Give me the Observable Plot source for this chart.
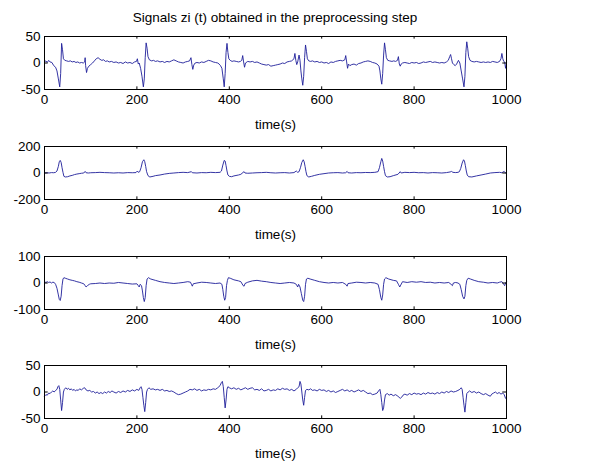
<!DOCTYPE html>
<html><head>
<meta charset="utf-8">
<script src="https://cdn.jsdelivr.net/npm/d3@7"></script>
<script src="https://cdn.jsdelivr.net/npm/@observablehq/plot@0.6"></script>
<style>
body{margin:0;background:#fff;}
#wrap{position:relative;width:591px;height:463px;overflow:hidden;font-family:"Liberation Sans",Arial,sans-serif;}
#title{position:absolute;left:44px;width:462px;top:10px;text-align:center;font-size:13.5px;line-height:15px;color:#000;}
.panel{position:absolute;left:0;}
</style></head><body>
<div id="wrap"><div id="title">Signals zi (t) obtained in the preprocessing step</div></div>
<script>
const titleText = "Signals zi (t) obtained in the preprocessing step";
const xLabel = "time(s)";
const xTicks = [0, 200, 400, 600, 800, 1000];
const yTicks1 = [-50, 0, 50];
const yTicks2 = [-200, 0, 200];
const yTicks3 = [-100, 0, 100];
const yTicks4 = [-50, 0, 50];

const signal1 = [[0,2],[3,4],[6,1],[9,5],[12,2],[16,1],[20,-5],[24,-8],[27,-15],[30,-30],[33,-45],[35,-20],[37,37],[39,25],[41,8],[44,5],[48,4],[52,3],[56,4],[60,2],[64,3],[68,1],[72,2],[76,0],[80,1],[84,0],[87,2],[88,10],[89,-5],[91,-18],[93,-10],[96,-6],[100,-3],[104,0],[108,4],[112,8],[116,10],[120,7],[124,5],[128,6],[132,3],[136,4],[140,2],[145,3],[150,1],[155,2],[160,0],[165,1],[170,-1],[175,2],[180,0],[185,1],[190,-1],[195,2],[199,3],[201,8],[203,-2],[205,0],[208,-10],[211,-25],[214,-45],[216,-30],[218,10],[220,38],[222,28],[224,12],[227,6],[232,4],[236,5],[240,3],[245,4],[250,2],[255,3],[260,1],[265,3],[270,2],[275,4],[280,6],[285,4],[290,2],[295,1],[300,0],[305,2],[310,3],[314,4],[317,10],[319,-3],[321,-12],[323,-4],[326,0],[330,1],[335,0],[340,2],[345,1],[350,3],[355,5],[360,4],[365,2],[370,1],[375,0],[378,-2],[381,-5],[384,-10],[387,-30],[389,-45],[391,-20],[393,20],[395,37],[397,20],[399,8],[402,5],[406,3],[410,4],[415,3],[420,2],[424,3],[427,5],[429,14],[431,2],[433,-8],[435,0],[440,3],[445,2],[450,3],[455,1],[460,2],[465,0],[470,-2],[475,-3],[480,-4],[485,-3],[490,-6],[495,-5],[500,-4],[505,-3],[510,-2],[515,0],[520,-1],[525,2],[530,3],[535,4],[540,8],[542,18],[544,5],[546,-3],[548,2],[551,15],[553,5],[555,-15],[557,-30],[559,-42],[561,-25],[563,10],[565,34],[567,22],[569,8],[572,4],[576,3],[580,4],[585,2],[590,3],[595,1],[600,2],[605,0],[610,1],[615,-1],[620,2],[625,1],[630,3],[635,4],[640,5],[645,4],[650,6],[652,14],[654,2],[656,-10],[658,-2],[661,-5],[665,-3],[670,-2],[675,-4],[680,-1],[685,0],[690,2],[695,3],[700,4],[705,3],[710,1],[715,0],[720,-2],[724,-6],[726,-15],[728,-30],[730,-40],[732,-20],[734,15],[736,38],[738,25],[740,10],[743,5],[747,4],[752,3],[756,4],[760,3],[764,5],[766,12],[768,-2],[770,-6],[772,-2],[775,0],[780,1],[785,0],[790,-1],[795,1],[800,0],[805,1],[810,-1],[815,0],[820,2],[825,1],[830,2],[835,3],[840,1],[845,2],[850,1],[855,0],[860,1],[865,0],[870,2],[874,5],[877,12],[879,16],[881,8],[883,0],[886,-3],[889,-5],[892,-2],[896,5],[899,0],[902,-15],[905,-30],[908,-45],[910,-25],[912,20],[914,40],[916,28],[918,12],[921,5],[925,3],[930,2],[935,3],[940,2],[945,1],[950,2],[955,1],[960,2],[965,1],[970,3],[975,2],[980,1],[985,3],[988,8],[990,18],[992,8],[994,3],[996,2],[998,-10],[1000,0]];

const signal2 = [[0,0],[5,2],[10,0],[15,3],[20,2],[24,5],[27,15],[30,50],[32,85],[34,95],[36,80],[38,40],[40,5],[42,-25],[45,-30],[50,-28],[55,-22],[60,-18],[65,-12],[70,-8],[75,-5],[80,-2],[85,0],[88,12],[90,2],[95,0],[100,2],[110,3],[120,5],[130,3],[140,2],[150,0],[160,2],[170,0],[180,3],[190,2],[198,3],[201,15],[203,5],[206,10],[209,40],[212,85],[215,100],[217,85],[219,50],[221,10],[224,-20],[228,-30],[235,-25],[240,-20],[250,-15],[260,-8],[270,-3],[280,0],[290,3],[300,5],[310,3],[318,10],[320,2],[330,0],[340,3],[350,2],[360,5],[370,3],[380,5],[383,15],[386,60],[389,95],[391,90],[393,55],[395,15],[397,-15],[400,-25],[405,-28],[410,-22],[420,-15],[425,-10],[430,5],[432,10],[434,0],[440,-2],[450,0],[460,2],[470,3],[480,5],[490,2],[500,0],[510,2],[520,3],[530,0],[540,3],[545,15],[548,5],[551,10],[554,40],[557,80],[560,100],[562,85],[564,50],[566,10],[568,-20],[572,-30],[578,-25],[585,-18],[595,-10],[605,-5],[615,0],[625,2],[635,3],[645,0],[652,2],[655,12],[657,2],[665,0],[675,3],[685,2],[695,4],[705,3],[715,5],[722,10],[725,40],[728,85],[730,110],[732,90],[734,50],[736,10],[738,-20],[742,-30],[748,-28],[755,-20],[765,-10],[770,10],[772,0],[780,5],[790,3],[800,5],[810,2],[820,3],[830,0],[840,3],[850,2],[860,0],[870,3],[878,8],[881,12],[884,5],[890,3],[895,5],[898,10],[901,35],[904,75],[907,100],[909,90],[911,55],[913,15],[915,-15],[918,-28],[925,-30],[935,-22],[945,-15],[955,-8],[965,0],[975,3],[985,5],[990,2],[995,12],[998,0],[1000,5]];

const signal3 = [[0,5],[3,2],[6,5],[9,2],[12,4],[15,0],[18,3],[21,2],[24,-5],[27,-20],[30,-45],[32,-62],[34,-66],[36,-50],[38,-10],[40,15],[42,20],[45,18],[50,15],[55,12],[60,10],[65,8],[70,5],[75,3],[80,0],[85,-3],[88,-10],[90,-15],[93,-10],[97,-5],[100,-3],[110,-2],[120,0],[130,-2],[140,0],[150,-1],[160,2],[170,0],[180,-2],[190,-4],[200,-3],[203,-10],[205,-15],[207,-5],[210,-10],[212,-30],[214,-55],[216,-70],[218,-55],[220,-10],[222,15],[225,20],[230,15],[240,10],[250,5],[260,2],[270,0],[280,-2],[290,0],[300,2],[310,5],[316,3],[318,-5],[320,-12],[322,-3],[330,0],[340,3],[350,2],[360,0],[370,-2],[380,0],[384,-5],[386,-25],[388,-50],[390,-65],[392,-55],[394,-10],[396,10],[398,20],[402,18],[410,12],[420,8],[425,5],[430,-10],[432,-12],[434,-2],[440,3],[450,8],[460,10],[470,7],[480,5],[490,2],[500,0],[510,-2],[520,0],[530,2],[540,0],[545,-5],[548,-15],[550,-5],[553,-15],[556,-40],[559,-65],[561,-70],[563,-50],[565,-5],[567,15],[570,18],[575,15],[585,10],[595,5],[605,2],[615,0],[625,2],[635,0],[645,2],[652,-5],[655,-12],[657,-2],[665,0],[675,3],[685,2],[695,0],[705,2],[715,0],[722,-5],[725,-25],[728,-55],[730,-65],[732,-45],[734,-5],[736,15],[739,20],[745,15],[755,10],[762,8],[766,-5],[769,-15],[771,-8],[775,5],[785,2],[795,5],[805,3],[815,5],[825,2],[835,3],[845,0],[855,2],[865,0],[875,2],[880,-5],[883,-10],[885,0],[890,2],[895,0],[899,-5],[902,-25],[905,-50],[908,-60],[910,-50],[912,-10],[914,10],[917,18],[922,15],[930,10],[940,5],[950,3],[960,0],[970,2],[980,0],[985,3],[990,5],[994,-5],[996,-10],[998,0],[1000,5]];

const signal4 = [[0,-8],[3,-5],[6,-6],[9,-2],[12,-3],[15,0],[18,2],[21,0],[24,3],[27,5],[29,10],[31,12],[33,5],[35,-15],[37,-35],[39,-20],[41,0],[43,5],[46,8],[49,5],[52,7],[55,4],[58,6],[61,3],[64,5],[67,2],[70,4],[73,3],[76,6],[80,4],[84,7],[87,8],[90,4],[94,2],[98,3],[102,0],[106,1],[110,-2],[114,0],[118,-3],[122,-1],[126,-3],[130,0],[134,-2],[138,1],[142,-1],[146,2],[150,0],[155,-2],[160,1],[165,-1],[170,2],[175,0],[180,3],[185,1],[190,4],[195,2],[200,5],[204,3],[207,8],[209,10],[211,5],[213,-10],[215,-25],[217,-37],[219,-20],[221,0],[223,5],[226,8],[230,5],[235,6],[240,4],[245,5],[250,3],[255,5],[260,2],[265,3],[270,1],[275,2],[280,0],[285,-3],[290,-5],[295,-4],[300,-2],[305,0],[310,2],[315,5],[320,4],[325,6],[330,3],[335,5],[340,2],[345,4],[350,3],[355,5],[360,4],[365,6],[370,5],[375,8],[380,12],[383,18],[385,20],[387,10],[389,-10],[391,-30],[393,-15],[395,5],[397,10],[400,8],[405,6],[410,8],[415,5],[420,7],[425,4],[430,6],[435,8],[440,5],[445,7],[450,8],[455,4],[460,5],[465,3],[470,6],[475,2],[480,3],[485,5],[490,2],[495,4],[500,3],[505,6],[510,4],[515,7],[520,5],[525,6],[530,3],[535,5],[540,2],[545,5],[548,8],[551,10],[553,20],[555,15],[557,0],[559,-15],[561,-25],[563,-10],[565,3],[568,5],[572,4],[576,6],[580,3],[585,4],[590,2],[595,5],[600,3],[605,4],[610,1],[615,3],[620,0],[625,2],[630,-1],[635,1],[640,3],[645,5],[650,2],[655,4],[660,1],[665,3],[670,0],[675,2],[680,4],[685,1],[690,3],[695,0],[700,-3],[705,-2],[710,-5],[715,-4],[720,-2],[723,2],[726,5],[728,-5],[730,-20],[732,-35],[734,-30],[736,-15],[738,-5],[742,-3],[746,-6],[750,-4],[755,-7],[760,-5],[765,-8],[770,-12],[773,-10],[776,-6],[780,-4],[785,-6],[790,-3],[795,-5],[800,-2],[805,-4],[810,-3],[815,-5],[820,-2],[825,-4],[830,-1],[835,-3],[840,-2],[845,-4],[850,-1],[855,-3],[860,0],[865,-2],[870,1],[875,-1],[880,2],[885,0],[890,1],[895,3],[899,5],[902,8],[904,5],[906,-10],[908,-25],[910,-38],[912,-20],[914,-3],[917,0],[920,2],[925,-1],[930,1],[935,-2],[940,0],[945,-3],[950,-5],[955,-3],[960,-6],[965,-8],[968,-4],[972,-2],[976,0],[980,-3],[984,-1],[988,-4],[992,-2],[995,-5],[998,-12],[1000,-12]];

const panels = [
  {data: signal1, ticks: yTicks1, top: 36},
  {data: signal2, ticks: yTicks2, top: 146},
  {data: signal3, ticks: yTicks3, top: 256},
  {data: signal4, ticks: yTicks4, top: 365}
];

const font = '"Liberation Sans", Arial, sans-serif';
const wrap = document.getElementById("wrap");
document.getElementById("title").textContent = titleText;
const mTop = 10, boxH = 53, mBottom = 50;

for (const p of panels) {
  const dom = [p.ticks[0], p.ticks[p.ticks.length - 1]];
  const span = dom[1] - dom[0];
  const inner = xTicks.slice(1, -1);
  const yInner = p.ticks.slice(1, -1);
  const chart = Plot.plot({
    width: 591,
    height: mTop + boxH + mBottom,
    marginLeft: 44,
    marginRight: 85,
    marginTop: mTop,
    marginBottom: mBottom,
    style: {fontFamily: font, fontSize: "13.5px", background: "transparent", color: "#000", overflow: "visible"},
    x: {domain: [0, 1000], ticks: xTicks},
    y: {domain: dom, ticks: p.ticks},
    marks: [
      Plot.line(p.data, {x: d => d[0], y: d => d[1], stroke: "#1e1e9a", strokeWidth: 0.9}),
      Plot.ruleX(inner, {y1: dom[0], y2: dom[0] + span * 0.05, stroke: "#000"}),
      Plot.ruleX(inner, {y1: dom[1], y2: dom[1] - span * 0.05, stroke: "#000"}),
      Plot.ruleY(yInner, {x1: 0, x2: 8, stroke: "#000"}),
      Plot.ruleY(yInner, {x1: 1000, x2: 992, stroke: "#000"}),
      Plot.frame({stroke: "#000"}),
      Plot.axisX({ticks: xTicks, tickSize: 0, tickPadding: 5, tickFormat: d => String(d), label: null}),
      Plot.axisY({ticks: p.ticks, tickSize: 0, tickPadding: 4, tickFormat: d => String(d), label: null}),
      Plot.text([xLabel], {frameAnchor: "bottom", text: d => d, dy: 35, lineAnchor: "middle", fontSize: 13.5, fill: "#000"})
    ]
  });
  chart.classList.add("panel");
  chart.style.top = (p.top - mTop) + "px";
  wrap.appendChild(chart);
}
</script>
</body></html>
